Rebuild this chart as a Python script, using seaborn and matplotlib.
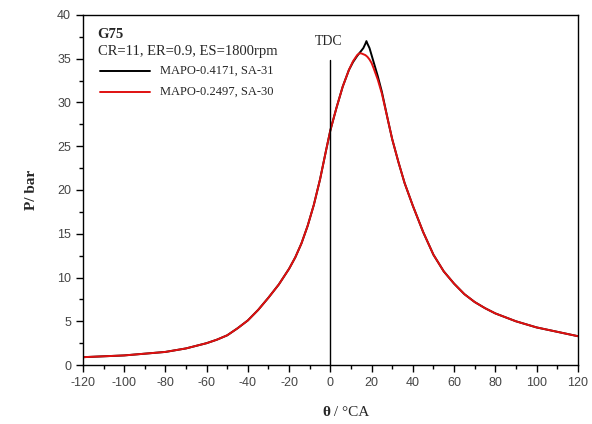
import numpy as np
import pandas as pd
import seaborn as sns
import matplotlib.pyplot as plt
from matplotlib.ticker import MultipleLocator

# crank angle (deg) and cylinder pressure (bar)
theta_a = [-120, -110, -100, -90, -80, -70, -60, -55, -50, -45, -40, -35, -30, -25, -20, -17,
           -14, -11, -8, -5, -2, 0, 3, 6, 9, 11, 13, 14, 15, 16, 17, 17.5, 18, 19, 20, 21,
           23, 25, 28, 30, 33, 36, 40, 45, 50, 55, 60, 65, 70, 75, 80, 90, 100, 110, 120]
p_a = [0.9, 1.0, 1.1, 1.3, 1.5, 1.9, 2.5, 2.9, 3.4, 4.2, 5.1, 6.3, 7.7, 9.2, 11.0, 12.3,
       13.9, 15.9, 18.3, 21.2, 24.6, 26.8, 29.4, 31.8, 33.7, 34.6, 35.3, 35.6, 35.9, 36.2,
       36.7, 37.0, 36.7, 36.2, 35.4, 34.6, 33.0, 31.2, 27.9, 25.8, 23.2, 20.8, 18.2, 15.2,
       12.6, 10.7, 9.3, 8.1, 7.2, 6.5, 5.9, 5.0, 4.3, 3.8, 3.3]

theta_b = [-120, -110, -100, -90, -80, -70, -60, -55, -50, -45, -40, -35, -30, -25, -20, -17,
           -14, -11, -8, -5, -2, 0, 3, 6, 9, 11, 13, 14, 15, 16, 17, 18, 19, 20, 21,
           23, 25, 28, 30, 33, 36, 40, 45, 50, 55, 60, 65, 70, 75, 80, 90, 100, 110, 120]
p_b = [0.9, 1.0, 1.1, 1.3, 1.5, 1.9, 2.5, 2.9, 3.4, 4.2, 5.1, 6.3, 7.7, 9.2, 11.0, 12.3,
       13.9, 15.9, 18.3, 21.2, 24.6, 26.8, 29.4, 31.8, 33.7, 34.7, 35.4, 35.6, 35.6, 35.5,
       35.4, 35.2, 34.9, 34.5, 33.9, 32.6, 31.0, 27.9, 25.8, 23.2, 20.8, 18.2, 15.2,
       12.6, 10.7, 9.3, 8.1, 7.2, 6.5, 5.9, 5.0, 4.3, 3.8, 3.3]

labels = ["MAPO-0.4171, SA-31", "MAPO-0.2497, SA-30"]
colors = ["black", "#e01010"]

df = pd.concat([
    pd.DataFrame({"theta": theta_a, "P": p_a, "case": labels[0]}),
    pd.DataFrame({"theta": theta_b, "P": p_b, "case": labels[1]}),
])

sns.set_style("ticks")
plt.rcParams["font.family"] = ["Liberation Serif", "DejaVu Serif"]
plt.rcParams["axes.unicode_minus"] = False

fig = plt.figure(figsize=(5.92, 4.24), dpi=100)
ax = fig.add_axes([0.140, 0.139, 0.836, 0.826])

sns.lineplot(data=df, x="theta", y="P", hue="case", palette=colors,
             linewidth=1.4, sort=False, estimator=None, ax=ax, legend=False)

# TDC marker
ax.plot([0, 0], [0, 34.8], color="black", linewidth=1.0)
ax.text(-1, 36.2, "TDC", ha="center", va="bottom", fontsize=10)

ax.set_xlim(-120, 120)
ax.set_ylim(0, 40)
ax.xaxis.set_major_locator(MultipleLocator(20))
ax.xaxis.set_minor_locator(MultipleLocator(10))
ax.yaxis.set_major_locator(MultipleLocator(5))
ax.yaxis.set_minor_locator(MultipleLocator(2.5))
ax.tick_params(which="major", length=5, width=1, direction="out", color="black")
ax.tick_params(which="minor", length=3, width=1, direction="out", color="black")
for lab in ax.get_xticklabels() + ax.get_yticklabels():
    lab.set_family("Liberation Sans")
    lab.set_fontsize(9)
    lab.set_color("#444444")
for s in ax.spines.values():
    s.set_linewidth(1.0)
    s.set_color("black")

# x label: bold theta, plain unit
ax.set_xlabel(" ", fontsize=11, labelpad=10)
ax.text(0.5, -0.135, "θ", transform=ax.transAxes, fontsize=11, fontweight="bold",
        ha="right", va="center")
ax.text(0.5, -0.135, " / °CA", transform=ax.transAxes, fontsize=11,
        ha="left", va="center")
ax.set_ylabel("P/ bar", fontsize=11, fontweight="bold", labelpad=14)

# annotations and hand-made legend
ax.text(0.03, 0.945, "G75", transform=ax.transAxes, fontsize=10.5, fontweight="bold",
        va="center")
ax.text(0.03, 0.895, "CR=11, ER=0.9, ES=1800rpm", transform=ax.transAxes, fontsize=10.5,
        va="center")
for i, (lab, c) in enumerate(zip(labels, colors)):
    yy = 0.84 - i * 0.06
    ax.plot([0.035, 0.135], [yy, yy], color=c, linewidth=1.4, transform=ax.transAxes)
    ax.text(0.155, yy, lab, transform=ax.transAxes, fontsize=9, va="center")

fig.savefig("out.png", dpi=100)
